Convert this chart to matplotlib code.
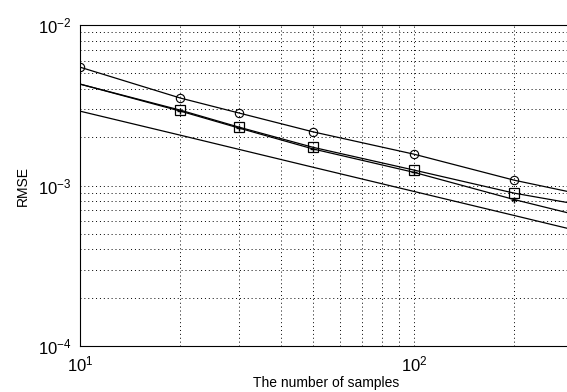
import matplotlib
matplotlib.use("Agg")
import matplotlib.pyplot as plt

plt.rcParams['font.family'] = ['Liberation Sans', 'DejaVu Sans']
plt.rcParams['mathtext.default'] = 'regular'

# number of samples
samples = [10, 20, 30, 50, 100, 200, 300]

# RMSE curves
rmse_circle = [5.47e-3, 3.51e-3, 2.83e-3, 2.16e-3, 1.57e-3, 1.08e-3, 9.04e-4]
rmse_square = [4.29e-3, 2.95e-3, 2.31e-3, 1.73e-3, 1.25e-3, 8.97e-4, 7.73e-4]
rmse_plus = [4.29e-3, 2.91e-3, 2.28e-3, 1.69e-3, 1.21e-3, 8.18e-4, 6.64e-4]
rmse_bound = [2.91e-3, 2.06e-3, 1.68e-3, 1.30e-3, 9.20e-4, 6.51e-4, 5.31e-4]


def main():
    fig = plt.figure(figsize=(5.67, 3.92), dpi=100)
    ax = fig.add_axes([0.141, 0.117, 0.870, 0.819])

    ax.loglog(samples, rmse_circle, color="k", lw=0.9, marker="o", ms=6,
              mfc="none", mec="k", mew=0.8)
    ax.loglog(samples, rmse_square, color="k", lw=0.9, marker="s", ms=7,
              mfc="none", mec="k", mew=0.9, markevery=[1, 2, 3, 4, 5])
    ax.loglog(samples, rmse_plus, color="k", lw=0.9, marker="+", ms=5,
              mec="k", mew=1.0, markevery=[1, 2, 3, 4, 5])
    ax.loglog(samples, rmse_bound, color="k", lw=0.9)

    ax.set_xlim(10, 300)
    ax.set_ylim(1e-4, 1e-2)
    ax.grid(True, which="both", linestyle=(0, (1, 3)), color="k", lw=0.7)
    ax.tick_params(which="both", direction="in", length=0, labelsize=12)
    ax.tick_params(axis="x", pad=6)
    ax.tick_params(axis="y", pad=6)
    ax.spines['right'].set_visible(False)

    ax.set_xlabel("The number of samples", fontsize=10, labelpad=1)
    ax.set_ylabel("RMSE", fontsize=10, labelpad=6)

    fig.savefig("out.png", dpi=100)


main()
